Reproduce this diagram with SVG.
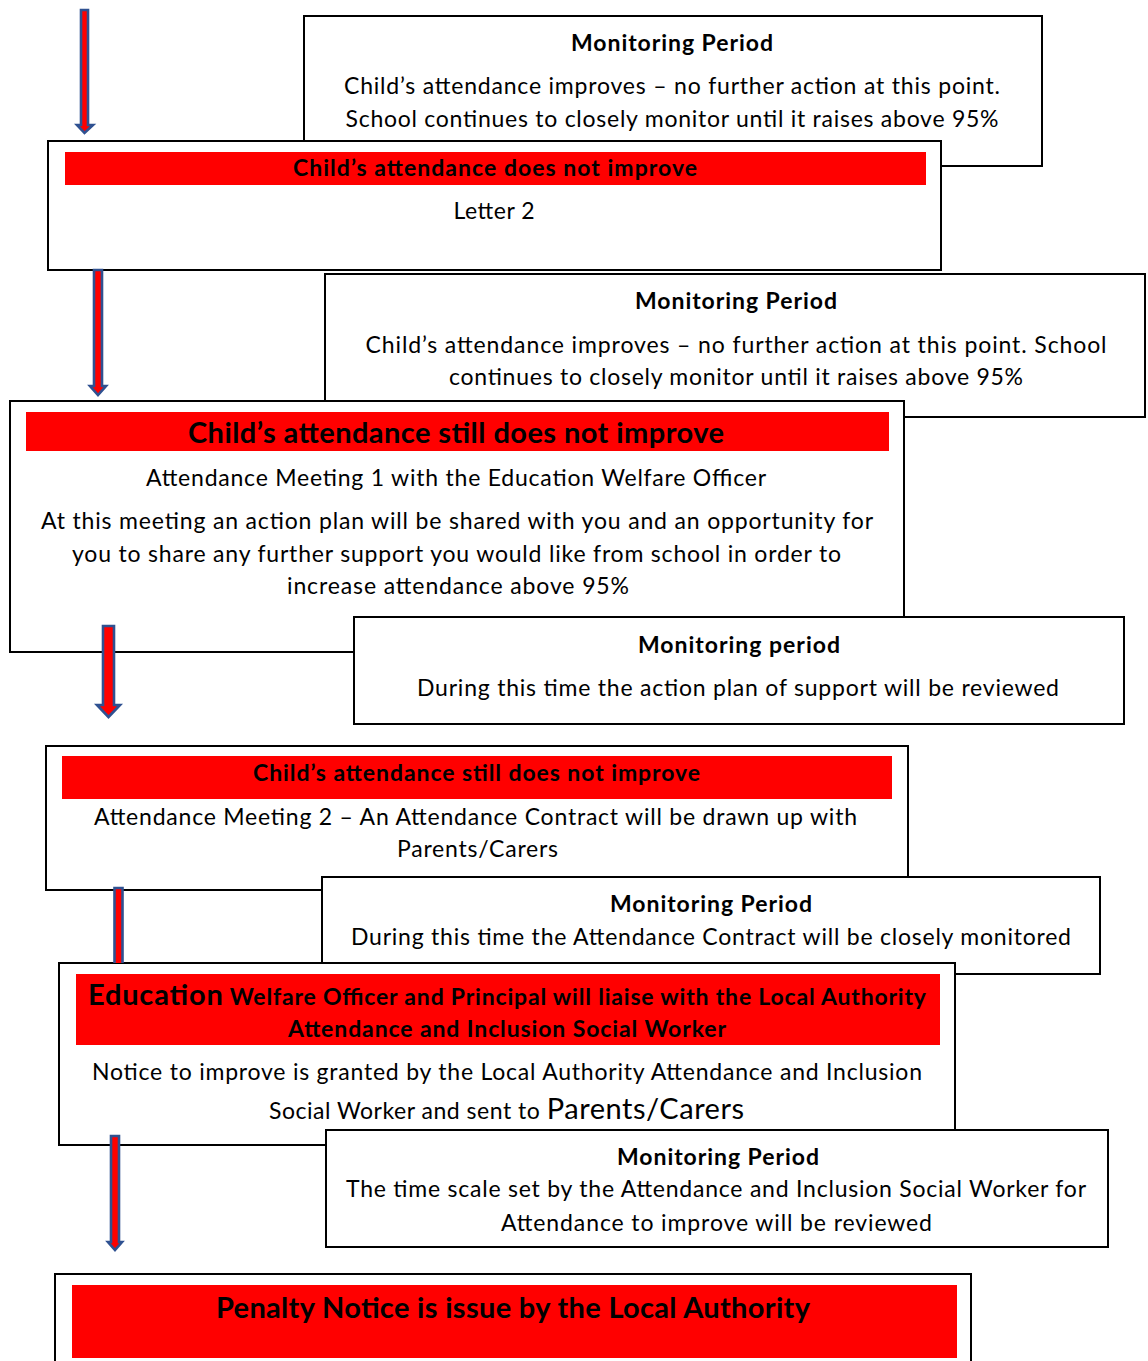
<svg xmlns="http://www.w3.org/2000/svg" width="1148" height="1361" viewBox="0 0 1148 1361">
<defs>
<style>
.box{fill:#fff;stroke:#000;stroke-width:2}
.bar{fill:#ff0000}
text{font-family:Lato,"Liberation Sans",sans-serif;fill:#000;text-anchor:middle}
.t{font-size:23px}
.b{font-size:23px;font-weight:bold}
.bl{font-size:29px;font-weight:bold}
.arr{fill:#ff0000;stroke:#2f5191;stroke-width:2.6;stroke-linejoin:miter}
</style>
</defs>
<rect width="1148" height="1361" fill="#fff"/>
<g id="monitor1">
<rect class="box" x="304" y="16" width="738" height="150"/>
<text class="b" x="672" y="51" textLength="202" lengthAdjust="spacing">Monitoring Period</text>
<text class="t" x="672" y="94" textLength="656" lengthAdjust="spacing">Child’s attendance improves – no further action at this point.</text>
<text class="t" x="672" y="127" textLength="653" lengthAdjust="spacing">School continues to closely monitor until it raises above 95%</text>
</g>
<g id="letter2">
<rect class="box" x="48" y="141" width="893" height="129"/>
<rect class="bar" x="65" y="152" width="861" height="33"/>
<text class="b" x="495" y="176" textLength="404" lengthAdjust="spacing">Child’s attendance does not improve</text>
<text class="t" x="494" y="219" textLength="81" lengthAdjust="spacing">Letter 2</text>
</g>
<g id="monitor2">
<rect class="box" x="325" y="274" width="820" height="143"/>
<text class="b" x="736" y="309" textLength="202" lengthAdjust="spacing">Monitoring Period</text>
<text class="t" x="736" y="353" textLength="741" lengthAdjust="spacing">Child’s attendance improves – no further action at this point.  School</text>
<text class="t" x="736" y="385" textLength="574" lengthAdjust="spacing">continues to closely monitor until it raises above 95%</text>
</g>
<g id="meeting1">
<rect class="box" x="10" y="401" width="894" height="251"/>
<rect class="bar" x="26" y="412" width="863" height="39"/>
<text class="bl" x="456" y="443" textLength="536" lengthAdjust="spacing">Child’s attendance still does not improve</text>
<text class="t" x="456" y="486" textLength="620" lengthAdjust="spacing">Attendance Meeting 1 with the Education Welfare Officer</text>
<text class="t" x="457" y="529" textLength="832" lengthAdjust="spacing">At this meeting an action plan will be shared with you and an opportunity for</text>
<text class="t" x="456.5" y="562" textLength="769" lengthAdjust="spacing">you to share any further support you would like from school in order to</text>
<text class="t" x="458" y="594" textLength="342" lengthAdjust="spacing">increase attendance above 95%</text>
</g>
<g id="monitor3">
<rect class="box" x="354" y="617" width="770" height="107"/>
<text class="b" x="739" y="653" textLength="202" lengthAdjust="spacing">Monitoring period</text>
<text class="t" x="738" y="696" textLength="642" lengthAdjust="spacing">During this time the action plan of support will be reviewed</text>
</g>
<g id="meeting2">
<rect class="box" x="46" y="746" width="862" height="144"/>
<rect class="bar" x="62" y="756" width="830" height="43"/>
<text class="b" x="476.5" y="781" textLength="447" lengthAdjust="spacing">Child’s attendance still does not improve</text>
<text class="t" x="475.5" y="825" textLength="763" lengthAdjust="spacing">Attendance Meeting 2 – An Attendance Contract will be drawn up with</text>
<text class="t" x="477.5" y="857" textLength="161" lengthAdjust="spacing">Parents/Carers</text>
</g>
<g id="monitor4">
<rect class="box" x="322" y="877" width="778" height="97"/>
<text class="b" x="711" y="912" textLength="202" lengthAdjust="spacing">Monitoring Period</text>
<text class="t" x="711" y="945" textLength="720" lengthAdjust="spacing">During this time the Attendance Contract will be closely monitored</text>
</g>
<g id="liaise">
<rect class="box" x="59" y="963" width="896" height="182"/>
<rect class="bar" x="76" y="974" width="864" height="71"/>
<text class="b" x="507" y="1005" textLength="838" lengthAdjust="spacing"><tspan font-size="29">Education</tspan> Welfare Officer and Principal will liaise with the Local Authority</text>
<text class="b" x="507" y="1037" textLength="438" lengthAdjust="spacing">Attendance and Inclusion Social Worker</text>
<text class="t" x="507" y="1080" textLength="830" lengthAdjust="spacing">Notice to improve is granted by the Local Authority Attendance and Inclusion</text>
<text class="t" x="506.5" y="1119" textLength="475" lengthAdjust="spacing">Social Worker and sent to <tspan font-size="29">Parents/Carers</tspan></text>
</g>
<g id="monitor5">
<rect class="box" x="326" y="1130" width="782" height="117"/>
<text class="b" x="718" y="1165" textLength="202" lengthAdjust="spacing">Monitoring Period</text>
<text class="t" x="716" y="1197" textLength="740" lengthAdjust="spacing">The time scale set by the Attendance and Inclusion Social Worker for</text>
<text class="t" x="716.5" y="1231" textLength="431" lengthAdjust="spacing">Attendance to improve will be reviewed</text>
</g>
<g id="penalty">
<rect class="box" x="55" y="1274" width="916" height="100"/>
<rect class="bar" x="72" y="1285" width="885" height="73"/>
<text class="bl" x="513" y="1318" textLength="594" lengthAdjust="spacing">Penalty Notice is issue by the Local Authority</text>
</g>
<g id="connectors">
<path class="arr" d="M81,10 H88 V125 H93 L84.5,133 L77,125 H81 Z"/>
<path class="arr" d="M94,270 H102 V386 H106 L98,395 L90,386 H94 Z"/>
<path class="arr" d="M103,626 H114 V705 H120 L108.5,717 L97,705 H103 Z"/>
<path class="arr" d="M114.5,963 V888 H122.5 V963"/>
<path class="arr" d="M111,1136 H119 V1242 H122 L115,1250 L108,1242 H111 Z"/>
</g>
</svg>
